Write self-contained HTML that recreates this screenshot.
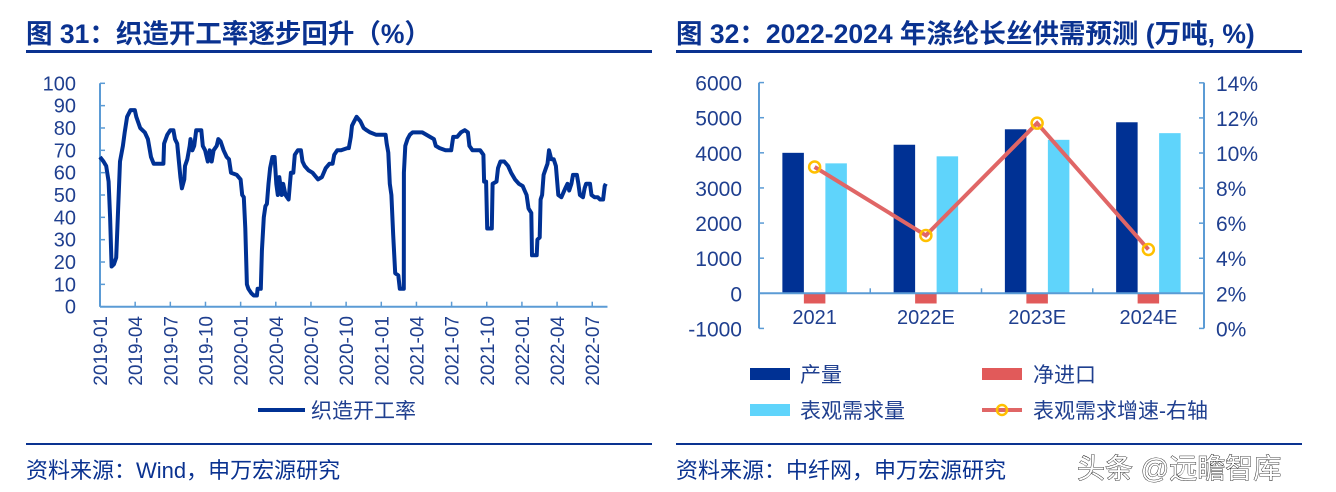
<!DOCTYPE html>
<html><head><meta charset="utf-8"><style>
html,body{margin:0;padding:0;background:#fff;}
body{width:1336px;height:492px;overflow:hidden;position:relative;font-family:"Liberation Sans","Noto Sans CJK SC",sans-serif;}
</style></head><body>
<svg width="1336" height="492" style="position:absolute;left:0;top:0" font-family="Liberation Sans, Noto Sans CJK SC, sans-serif">
<text x="26" y="43" font-size="26.5" font-weight="bold" fill="#0a3290">图 31：织造开工率逐步回升（%）</text>
<rect x="26" y="50" width="626" height="3" fill="#0a3290"/>
<text x="676" y="43" font-size="26.5" font-weight="bold" fill="#0a3290">图 32：2022-2024 年涤纶长丝供需预测 (万吨, %)</text>
<rect x="676" y="50" width="626" height="3" fill="#0a3290"/>
<rect x="26" y="443" width="626" height="2" fill="#0a3290"/>
<rect x="676" y="443" width="626" height="2" fill="#0a3290"/>
<text x="26" y="478" font-size="22" fill="#0a3290">资料来源：Wind，申万宏源研究</text>
<text x="676" y="478" font-size="22" fill="#0a3290">资料来源：中纤网，申万宏源研究</text>
<text x="1077" y="478" font-size="28" fill="#fff" stroke="#000" stroke-width="0.8" style="paint-order:stroke">头条 @远瞻智库</text>
<g id="left"></g>
<g id="right"></g>
</svg>
<script>
// ---- Left chart data ----
const leftMonths = [0,0.3,0.53,0.73,0.86,0.99,1.19,1.38,1.52,1.71,1.95,2.11,2.31,2.6,2.97,3.1,3.43,3.82,4.09,4.35,4.58,5.41,5.47,5.74,6.0,6.26,6.4,6.59,6.73,6.86,6.99,7.19,7.25,7.45,7.65,7.72,7.88,8.04,8.21,8.64,8.77,8.97,9.2,9.36,9.53,9.69,9.96,10.09,10.29,10.55,10.81,11.01,11.18,11.67,12.0,12.13,12.27,12.4,12.53,12.66,12.92,13.12,13.39,13.45,13.72,13.81,13.98,14.11,14.24,14.38,14.51,14.71,14.9,15.04,15.17,15.3,15.5,15.63,15.83,16.09,16.29,16.49,16.62,16.88,17.14,17.28,17.47,17.8,18.13,18.6,18.93,19.26,19.58,19.85,19.98,20.24,20.57,21.1,21.23,21.4,21.5,21.69,21.89,22.22,22.49,22.75,23.05,23.54,24.04,24.37,24.46,24.6,24.73,24.86,25.02,25.19,25.45,25.58,25.92,25.93,26.05,26.24,26.44,26.67,27.5,28.16,28.49,28.65,28.98,29.48,29.97,30.14,30.47,30.79,31.12,31.39,31.52,31.78,32.44,32.71,32.77,32.94,33.04,33.43,33.5,33.83,33.96,34.16,34.49,34.82,35.08,35.41,35.74,36.07,36.23,36.4,36.56,36.8,36.86,37.26,37.32,37.52,37.59,37.72,37.85,38.05,38.18,38.31,38.51,38.71,38.9,39.1,39.37,39.7,39.89,40.03,40.22,40.36,40.69,40.82,40.95,41.21,41.35,41.48,41.81,41.94,42.2,42.47,42.66,42.93,43.06,43.16];
const leftValues = [67,65,63,56,40,18,19,22,40,65,72,78,85,88,88,85,80,78,75,67,64,64,73,77,79,79,75,73,65,58,53,57,63,66,72,75,70,72,79,79,72,70,65,70,65,70,72,75,74,70,67,66,60,59,57,50,49,35,10,8,6,5,5,8,8,25,40,45,46,55,62,67,67,55,50,58,50,55,50,48,60,60,68,70,70,65,63,61,60,57,58,62,64,64,68,70,70,71,71,76,81,83,85,83,80,79,78,77,77,77,73,69,55,50,32,15,14,8,8,60,72,75,77,78,78,76,75,72,71,70,70,76,76,78,79,78,72,70,70,68,56,56,35,35,55,56,62,65,65,63,60,57,55,54,52,50,44,42,23,23,30,31,48,50,59,62,64,70,66,66,63,50,49,53,55,52,55,59,59,55,50,49,53,55,55,50,49,49,48,48,54,55];
const leftTickLabels = ["2019-01","2019-04","2019-07","2019-10","2020-01","2020-04","2020-07","2020-10","2021-01","2021-04","2021-07","2021-10","2022-01","2022-04","2022-07"];
const leftYTicks = [0,10,20,30,40,50,60,70,80,90,100];
// ---- Right chart data ----
const rCats = ["2021","2022E","2023E","2024E"];
const rProd = [4000,4230,4670,4870];
const rImport = [-290,-290,-290,-290];
const rDemand = [3700,3900,4370,4560];
const rGrowth = [9.2,5.3,11.7,4.5];
const rLeftTicks = [-1000,0,1000,2000,3000,4000,5000,6000];
const rRightTicks = [0,2,4,6,8,10,12,14];

const NS="http://www.w3.org/2000/svg";
function mk(parent,tag,attrs,text){const e=document.createElementNS(NS,tag);for(const k in attrs)e.setAttribute(k,attrs[k]);if(text!==undefined)e.textContent=text;parent.appendChild(e);return e;}
const AX="#5b9bd5", TXT="#1f3f8f";

// Left chart
const L=document.getElementById('left');
const lx=m=>100+m*11.72, ly=v=>306.7-v*2.234;
let e;
e=mk(L,'line',{x1:100,y1:ly(100),x2:100,y2:ly(0),stroke:AX,'stroke-width':2});


e=mk(L,'line',{x1:100,y1:ly(0),x2:lx(43.3),y2:ly(0),stroke:AX,'stroke-width':2});


leftYTicks.forEach(v=>{
  mk(L,'line',{x1:100,y1:ly(v),x2:105,y2:ly(v),stroke:AX,'stroke-width':1.5});
  e=mk(L,'text',{x:76,y:ly(v)+7,'text-anchor':'end','font-size':20,fill:TXT},String(v));
  
  
});
leftTickLabels.forEach((s,i)=>{
  const x=lx(i*3);
  mk(L,'line',{x1:x,y1:ly(0),x2:x,y2:ly(0)-5,stroke:AX,'stroke-width':1.5});
  e=mk(L,'text',{x:0,y:0,'text-anchor':'end','font-size':19,fill:TXT,transform:`translate(${x+7},${316}) rotate(-90)`},s);
  
  
});
e=mk(L,'polyline',{points:leftMonths.map((m,i)=>lx(m).toFixed(1)+','+ly(leftValues[i]).toFixed(1)).join(' '),fill:'none',stroke:'#003194','stroke-width':4,'stroke-linejoin':'round'});


e=mk(L,'line',{x1:258,y1:410,x2:305,y2:410,stroke:'#003194','stroke-width':4});


e=mk(L,'text',{x:311,y:418,'font-size':21,fill:TXT},'织造开工率');



// Right chart
const R=document.getElementById('right');
const x0=759,x1=1204,cw=(x1-x0)/rCats.length;
const ry=v=>293.3-v*0.03512, rg=p=>328.4-p*17.54;
rLeftTicks.forEach(v=>{
  mk(R,'line',{x1:x0,y1:ry(v),x2:x0+5,y2:ry(v),stroke:AX,'stroke-width':1.5});
  e=mk(R,'text',{x:742,y:ry(v)+8,'text-anchor':'end','font-size':21,fill:TXT},String(v));
  
  
});
rRightTicks.forEach(p=>{
  mk(R,'line',{x1:x1-5,y1:rg(p),x2:x1,y2:rg(p),stroke:AX,'stroke-width':1.5});
  e=mk(R,'text',{x:1216,y:rg(p)+8,'font-size':21,fill:TXT},p+'%');
  
  
});
rCats.forEach((c,i)=>{
  const cx=x0+cw*(i+0.5), bw=21.5;
  e=mk(R,'rect',{x:cx-bw*1.5,y:ry(rProd[i]),width:bw,height:ry(0)-ry(rProd[i]),fill:'#003194'});
  
  
  e=mk(R,'rect',{x:cx-bw*0.5,y:ry(0),width:bw,height:ry(rImport[i])-ry(0),fill:'#e15a5a'});
  
  
  e=mk(R,'rect',{x:cx+bw*0.5,y:ry(rDemand[i]),width:bw,height:ry(0)-ry(rDemand[i]),fill:'#5fd4fb'});
  
  
  e=mk(R,'text',{x:cx,y:324,'text-anchor':'middle','font-size':20,fill:TXT},c);
  
  
  if(i>0) mk(R,'line',{x1:x0+cw*i,y1:ry(0),x2:x0+cw*i,y2:ry(0)-5,stroke:AX,'stroke-width':1.5});
});
mk(R,'line',{x1:x0,y1:ry(6000),x2:x0,y2:ry(-1000),stroke:AX,'stroke-width':2});
mk(R,'line',{x1:x1,y1:ry(6000),x2:x1,y2:ry(-1000),stroke:AX,'stroke-width':2});
mk(R,'line',{x1:x0,y1:ry(0),x2:x1,y2:ry(0),stroke:AX,'stroke-width':2});
e=mk(R,'polyline',{points:rGrowth.map((p,i)=>(x0+cw*(i+0.5)).toFixed(1)+','+rg(p).toFixed(1)).join(' '),fill:'none',stroke:'#e06666','stroke-width':4});


rGrowth.forEach((p,i)=>{
  e=mk(R,'circle',{cx:x0+cw*(i+0.5),cy:rg(p),r:5.5,fill:'none',stroke:'#ffc000','stroke-width':2.5});
  
  
});
// legend
e=mk(R,'rect',{x:750,y:368,width:40,height:12,fill:'#003194'});


e=mk(R,'text',{x:800,y:382,'font-size':21,fill:TXT},'产量');


e=mk(R,'rect',{x:982,y:368,width:40,height:12,fill:'#e15a5a'});


e=mk(R,'text',{x:1033,y:382,'font-size':21,fill:TXT},'净进口');


e=mk(R,'rect',{x:750,y:404,width:40,height:12,fill:'#5fd4fb'});


e=mk(R,'text',{x:800,y:418,'font-size':21,fill:TXT},'表观需求量');


e=mk(R,'line',{x1:982,y1:410,x2:1022,y2:410,stroke:'#e06666','stroke-width':4});


mk(R,'circle',{cx:1002,cy:410,r:5,fill:'none',stroke:'#ffc000','stroke-width':2.5});
e=mk(R,'text',{x:1033,y:418,'font-size':21,fill:TXT},'表观需求增速-右轴');


</script>
</body></html>
